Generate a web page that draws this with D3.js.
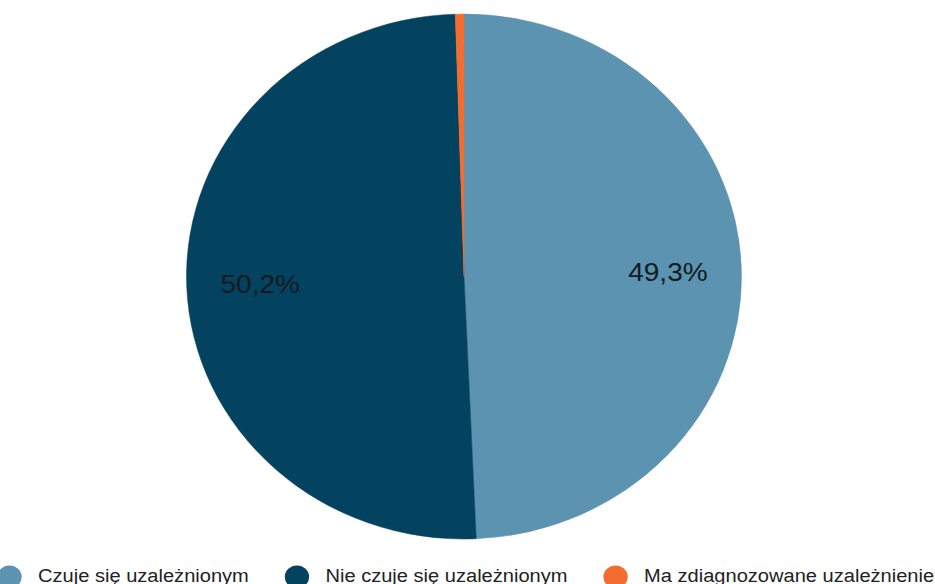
<!DOCTYPE html>
<html>
<head>
<meta charset="utf-8">
<script src="https://cdn.jsdelivr.net/npm/d3@7/dist/d3.min.js"></script>
<style>
  html, body { margin: 0; padding: 0; background: #ffffff; }
  svg { display: block; }
  text { font-family: "Liberation Sans", Arial, sans-serif; }
</style>
</head>
<body>
<svg id="chart" width="935" height="584"></svg>
<script>
// Survey answers: share of respondents (percent)
const categories = ["Czuje się uzależnionym", "Nie czuje się uzależnionym", "Ma zdiagnozowane uzależnienie"];
const values = [49.3, 50.2, 0.5];
const valueLabels = ["49,3%", "50,2%", ""];
const colors = ["#5b93b0", "#03435f", "#f46d30"];

const W = 935, H = 584;
const stretchX = 1.057;           // horizontal stretch of the whole drawing

const svg = d3.select("#chart");
const root = svg.append("g").attr("transform", `scale(${stretchX},1)`);

const radius = 262.5;
const cx = 439, cy = 276.5;

const pie = d3.pie().sort(null).value(d => d)(values);
const arc = d3.arc().innerRadius(0).outerRadius(radius);
const labelArc = d3.arc().innerRadius(radius * 0.735).outerRadius(radius * 0.735);

const pieG = root.append("g").attr("transform", `translate(${cx},${cy})`);
pieG.selectAll("path.slice")
  .data(pie)
  .join("path")
  .attr("class", "slice")
  .attr("d", arc)
  .attr("fill", (d, i) => colors[i])
  .attr("stroke", (d, i) => colors[i])
  .attr("stroke-width", 0.5);

pieG.selectAll("text.val")
  .data(pie.filter((d, i) => valueLabels[i]))
  .join("text")
  .attr("class", "val")
  .attr("transform", d => `translate(${labelArc.centroid(d)})`)
  .attr("text-anchor", "middle")
  .attr("dominant-baseline", "central")
  .attr("font-size", 26.5)
  .attr("fill", "#141a22")
  .text(d => valueLabels[d.index]);

// Legend along the bottom edge
const legY = 577;
const markerR = 11.5;
const textPad = 15.5;
const itemGap = 34;
const legend = root.append("g");
let x = 9;
categories.forEach((name, i) => {
  const item = legend.append("g").attr("transform", `translate(${x},${legY})`);
  item.append("circle").attr("r", markerR).attr("fill", colors[i]);
  const t = item.append("text")
    .attr("x", markerR + textPad)
    .attr("y", 4.5)
    .attr("font-size", 19)
    .attr("fill", "#222")
    .text(name);
  const tw = t.node().getComputedTextLength();
  x += markerR + textPad + tw + itemGap + markerR;
});
</script>
</body>
</html>
